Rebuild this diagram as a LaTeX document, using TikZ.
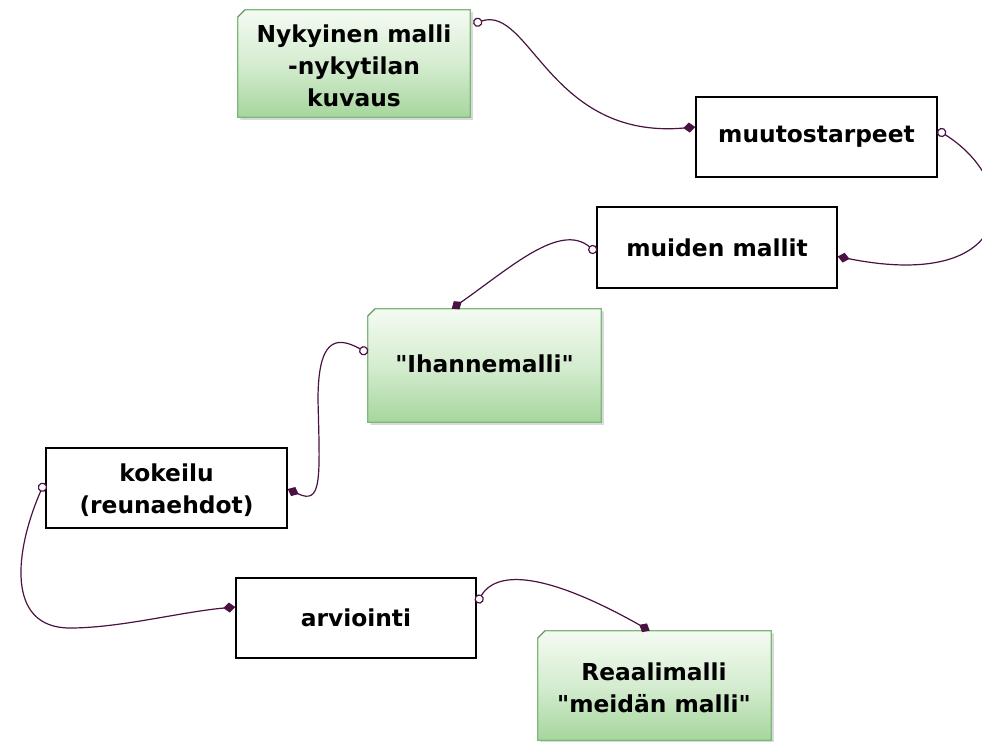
\documentclass[tikz,border=0pt]{standalone}
\usepackage{fontspec}
\newfontfamily\lblfont{DejaVu Sans}
\usetikzlibrary{arrows.meta,calc,fit,backgrounds}
\definecolor{conn}{HTML}{4A1242}
\definecolor{gtop}{HTML}{F4FBF2}
\definecolor{gbot}{HTML}{A6D69D}
\definecolor{gedge}{HTML}{7DB87A}
\tikzset{
  lbl/.style={font=\lblfont\fontsize{17.5}{24}\selectfont\bfseries, align=center, inner sep=0pt, text=black},
  wbox/.style={lbl, draw=black, line width=1.1pt, fill=white},
  gbox/.style={lbl},
  gshape/.style={top color=gtop, bottom color=gbot, middle color=gtop!60!gbot, draw=gedge, line width=0.8pt},
  gshadow/.style={fill=black!15, draw=none},
  link/.style={draw=conn, line width=0.9pt,
    {Circle[open,fill=white,length=7pt,width=7pt]}-{Diamond[length=9pt,width=7.5pt,fill=conn]}},
}
\newcommand{\greenframe}[1]{%
  \path[gshadow] ([xshift=2pt,yshift=-2pt]#1.south west) -- ([xshift=2pt,yshift=-2pt]#1.south east) -- ([xshift=2pt,yshift=-2pt]#1.north east) -- ([yshift=-2pt]#1.north east) -- (#1.south east) -- ([xshift=2pt]#1.south west) -- cycle;
  \path[gshape] ([yshift=-5.5pt]#1.north west) -- ([xshift=5.5pt]#1.north west) -- (#1.north east) -- (#1.south east) -- (#1.south west) -- cycle;
  \draw[gedge!80!black, line width=0.6pt] ([yshift=-5.5pt]#1.north west) -- ([xshift=5.5pt]#1.north west);
}
\begin{document}
\begin{tikzpicture}[x=0.75pt,y=-0.75pt]
\useasboundingbox (0,0) rectangle (982,742);

% nodes
\node[gbox, fit={(238,10) (470,117)}] (nyk) {};
\node[lbl] at (354,66) {Nykyinen malli\\-nykytilan\\kuvaus};
\node[wbox, fit={(696,97) (937,177)}] (mt) {};
\node[lbl] at (mt.center) {muutostarpeet};
\node[wbox, fit={(597,207) (837,288)}] (mm) {};
\node[lbl] at (mm.center) {muiden mallit};
\node[gbox, fit={(368,309) (601,422)}] (ih) {};
\node[lbl] at ($(ih.center)+(0,-2)$) {"Ihannemalli"};
\node[wbox, fit={(46,448) (287,528)}] (kk) {};
\node[lbl] at ($(kk.center)+(0,2)$) {kokeilu\\(reunaehdot)};
\node[wbox, fit={(236,578) (476,658)}] (ar) {};
\node[lbl] at (ar.center) {arviointi};
\node[gbox, fit={(538,631) (771,740)}] (re) {};
\node[lbl] at (654,688) {Reaalimalli\\"meidän malli"};

\begin{scope}[on background layer]
  \greenframe{nyk}
  \greenframe{ih}
  \greenframe{re}
\end{scope}

% connectors
\path[link] ($(nyk.north east)+(3,14)$) .. controls (530,5) and (550,140) .. ($(mt.west)+(0,-10)$);
\path[link] ($(mt.east)+(0,-7)$) .. controls (1025,185) and (1015,292) .. ($(mm.east)+(0,9)$);
\path[link] ($(mm.west)+(0,5)$) .. controls (560,222) and (510,268) .. ($(ih.north west)+(84,0)$);
\path[link] ($(ih.west)+(0,-12.5)$) .. controls (335,335) and (318,340) .. (318,400) .. controls (320,480) and (322,505) .. ($(kk.east)+(0,1)$);
\path[link] ($(kk.west)+(-1,-5)$) .. controls (15,550) and (5,628) .. (70,628) .. controls (120,628) and (180,612) .. ($(ar.west)+(0,-11)$);
\path[link] ($(ar.east)+(0,-15)$) .. controls (500,565) and (560,580) .. ($(re.north west)+(112,0)$);
\end{tikzpicture}
\end{document}
